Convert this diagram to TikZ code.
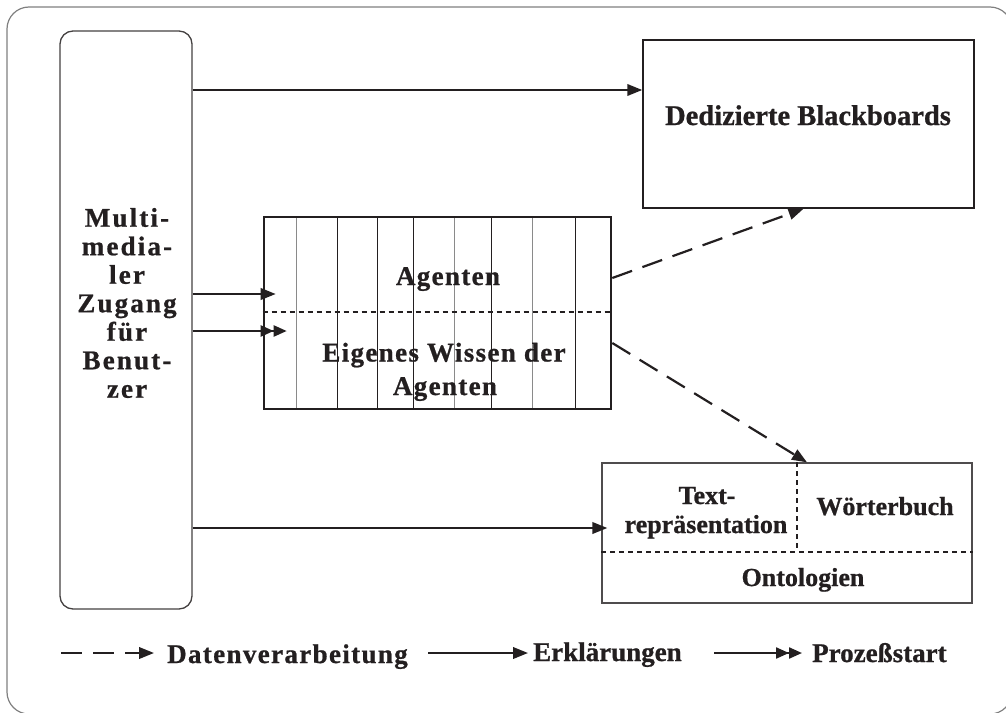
\documentclass[tikz,border=0pt]{standalone}
\usepackage{fontspec}
\setmainfont{Liberation Serif}[BoldFeatures={FakeBold=0.8}]
\newfontfamily\spacedA{Liberation Serif}[LetterSpace=8,BoldFeatures={FakeBold=0.8}]
\newfontfamily\spacedB{Liberation Serif}[LetterSpace=5,BoldFeatures={FakeBold=0.8}]
\usetikzlibrary{arrows.meta,calc}
\definecolor{ink}{HTML}{231F20}
\definecolor{frame}{HTML}{808080}
\definecolor{colgray}{HTML}{8A8A8A}
\tikzset{
  box/.style={draw=ink, line width=1.3pt, inner sep=0pt, fill=none},
  lbl/.style={text=ink, align=center, inner sep=0pt},
  tip/.style={-{Triangle[length=15pt,width=11.5pt]}},
  sarrow/.style={draw=ink, line width=2.2pt, tip},
  darrow/.style={draw=ink, line width=2.2pt, -{Triangle[length=13pt,width=11pt]Triangle[length=13pt,width=11pt]}},
  dasharrow/.style={draw=ink, line width=2.2pt, dash pattern=on 21pt off 11pt, tip},
  dotline/.style={draw=ink, line width=1.8pt, dash pattern=on 5pt off 4pt},
  colline/.style={line width=1pt},
}
\begin{document}
\begin{tikzpicture}[x=1pt,y=-1pt]
\useasboundingbox (0,0) rectangle (1006,712);
% outer frame
\draw[frame, line width=1.2pt, rounded corners=22pt] (7,7) rectangle (1012,714);

% left box
\node[box, draw=ink!85, rounded corners=13pt, minimum width=132pt, minimum height=578pt] (user) at (126,320) {};
\node[lbl, font=\spacedA\bfseries\fontsize{27}{28.5}\selectfont] (usertext) at (127,303)
  {Multi-\\media-\\ler\\Zugang\\für\\Benut-\\zer};

% Dedizierte Blackboards
\node[box, line width=1.5pt, minimum width=331pt, minimum height=168pt] (dedi) at (808.5,124) {};
\node[lbl, anchor=base, font=\bfseries\fontsize{28.5}{30}\selectfont] (deditext) at (808,125) {Dedizierte Blackboards};

% Agenten box
\node[box, line width=2.6pt, minimum width=347pt, minimum height=192pt] (agent) at (437.5,313) {};
\foreach \xx/\cc in {296.7/colgray,337.3/ink,377.3/ink,413.3/ink,454/colgray,491.3/ink,532.7/colgray,575.3/ink}
  \draw[colline, \cc] (\xx,218) -- (\xx,408);
\draw[dotline] (agent.west |- 0,312) -- (agent.east |- 0,312);
\node[lbl, anchor=base, font=\spacedB\bfseries\fontsize{27}{30}\selectfont] (agtext) at (448,285) {Agenten};
\node[lbl, anchor=base, font=\spacedB\bfseries\fontsize{27}{30}\selectfont] (wissen1) at (444,361.5) {Eigenes Wissen der};
\node[lbl, anchor=base, font=\spacedB\bfseries\fontsize{27}{30}\selectfont] (wissen2) at (445,395) {Agenten};

% bottom box
\node[box, draw=ink!80, minimum width=370pt, minimum height=140pt] (onto) at (787,533) {};
\draw[dotline] (onto.west |- 0,552) -- (onto.east |- 0,552);
\draw[dotline] (onto.north -| 797,0) -- (797,552);
\node[lbl, anchor=base, font=\bfseries\fontsize{26}{29}\selectfont] (text1) at (707,504) {Text-};
\node[lbl, anchor=base, font=\bfseries\fontsize{26}{29}\selectfont] (text2) at (706,533) {repräsentation};
\node[lbl, anchor=base, font=\bfseries\fontsize{26}{29}\selectfont] (woerter) at (885,515) {Wörterbuch};
\node[lbl, anchor=base, font=\bfseries\fontsize{26}{29}\selectfont] (ontotext) at (803,586) {Ontologien};

% connectors
\draw[sarrow] (user.east |- 0,90) -- (dedi.west |- 0,90);
\draw[sarrow] (user.east |- 0,294) -- ($(agent.west |- 0,294)+(13,0)$);
\draw[darrow] (user.east |- 0,331) -- ($(agent.west |- 0,331)+(24,0)$);
\draw[sarrow] (user.east |- 0,528) -- ($(onto.west |- 0,528)+(6,0)$);
\draw[dasharrow] (agent.east |- 0,278) -- ($(dedi.south)+(-5,0)$);
\draw[dasharrow] (agent.east |- 0,343) -- ($(onto.north)+(20,0)$);

% legend
\coordinate (l1a) at (61,653);
\coordinate (l1b) at (154,653);
\coordinate (l2a) at (428,653);
\coordinate (l2b) at (528,653);
\coordinate (l3a) at (714,653);
\coordinate (l3b) at (802,653);
\draw[dasharrow] (l1a) -- (l1b);
\draw[sarrow] (l2a) -- (l2b);
\draw[darrow] (l3a) -- (l3b);
\node[lbl, anchor=base west, font=\spacedB\bfseries\fontsize{27}{30}\selectfont] (leg1) at (167,663) {Datenverarbeitung};
\node[lbl, anchor=base west, font=\bfseries\fontsize{27}{30}\selectfont] (leg2) at (533,661) {Erklärungen};
\node[lbl, anchor=base west, font=\bfseries\fontsize{27}{30}\selectfont] (leg3) at (812,662) {Prozeßstart};
\end{tikzpicture}
\end{document}
